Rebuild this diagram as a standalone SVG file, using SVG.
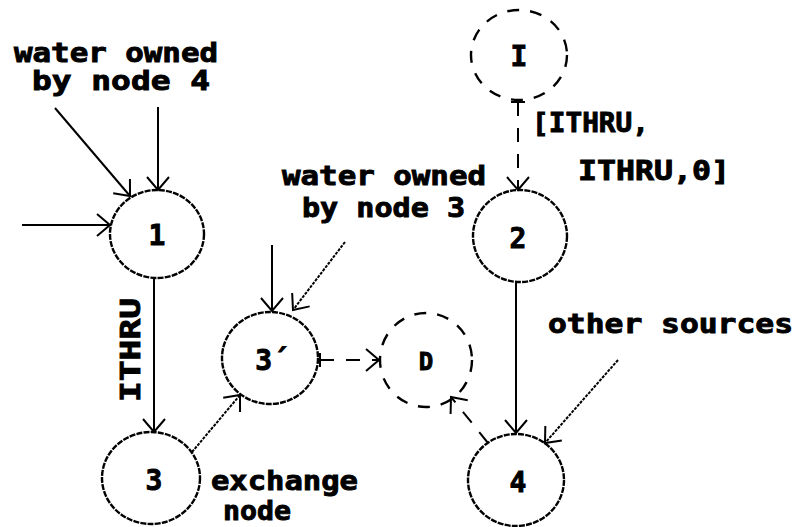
<svg xmlns="http://www.w3.org/2000/svg" width="798" height="527" viewBox="0 0 798 527">
<style>
.bg{fill:#fff}
.n{fill:none;stroke:#000;stroke-width:2.4;stroke-dasharray:6 1.2}
.nd{fill:none;stroke:#000;stroke-width:2.4;stroke-dasharray:12 11}
.c{fill:none;stroke:#000;stroke-width:2}
.cd{fill:none;stroke:#000;stroke-width:2;stroke-dasharray:3 1.2}
.cdash{fill:none;stroke:#000;stroke-width:2;stroke-dasharray:14 12}
.t{font-family:"DejaVu Sans Mono","Liberation Mono",monospace;font-weight:bold;font-size:26px;fill:#000;stroke:#000;stroke-width:0.9}
.nl{font-family:"DejaVu Sans Mono","Liberation Mono",monospace;font-weight:bold;font-size:28px;fill:#000;stroke:#000;stroke-width:0.9;text-anchor:middle}
</style>
<defs>
<marker id="ah" viewBox="-16 -14 18 28" refX="0" refY="0" markerWidth="18" markerHeight="28" markerUnits="userSpaceOnUse" orient="auto">
<path d="M-13,-11 L0,0 L-13,11" fill="none" stroke="#000" stroke-width="2"/>
</marker>
<marker id="tee" viewBox="-2 -8 4 16" refX="0" refY="0" markerWidth="4" markerHeight="16" markerUnits="userSpaceOnUse" orient="auto">
<path d="M0,-7 L0,7" fill="none" stroke="#000" stroke-width="2"/>
</marker>
</defs>
<rect class="bg" x="0" y="0" width="798" height="527"/>

<g id="connectors">
<line class="c" x1="55" y1="108" x2="130" y2="196" marker-end="url(#ah)"/>
<line class="c" x1="158" y1="107" x2="158" y2="190" marker-end="url(#ah)"/>
<line class="c" x1="22" y1="225" x2="110" y2="225" marker-end="url(#ah)"/>
<line class="c" x1="154" y1="278" x2="154" y2="432" marker-end="url(#ah)"/>
<line class="cd" x1="192" y1="452" x2="240" y2="395" marker-end="url(#ah)"/>
<line class="c" x1="272" y1="245" x2="272" y2="311" marker-end="url(#ah)"/>
<line class="cd" x1="345" y1="242" x2="293" y2="310" marker-end="url(#ah)"/>
<line class="cdash" x1="320" y1="360" x2="379" y2="360" stroke-dasharray="13 18 40" marker-start="url(#tee)" marker-end="url(#ah)"/>
<line class="cdash" x1="518" y1="102" x2="518" y2="190" stroke-dasharray="3 5 12 8 12 8 40" marker-start="url(#tee)" marker-end="url(#ah)"/>
<line class="c" x1="516" y1="283" x2="516" y2="433" marker-end="url(#ah)"/>
<line class="cd" x1="618" y1="360" x2="545" y2="443" marker-end="url(#ah)"/>
<line class="cdash" x1="488" y1="443" x2="451" y2="397" stroke-dasharray="20 24 40" marker-end="url(#ah)"/>
</g>

<g id="node-I">
<ellipse class="nd" cx="519" cy="55" rx="48" ry="45"/>
<text class="nl" x="519" y="66">I</text>
</g>
<g id="node-1">
<ellipse class="n" cx="157" cy="234" rx="47" ry="44"/>
<text class="nl" x="157" y="245">1</text>
</g>
<g id="node-2">
<ellipse class="n" cx="520" cy="236" rx="47" ry="46"/>
<text class="nl" x="518" y="248">2</text>
</g>
<g id="node-3p">
<ellipse class="n" cx="270" cy="358" rx="48" ry="46"/>
<text class="nl" x="272" y="370">3´</text>
</g>
<g id="node-D">
<ellipse class="nd" cx="426" cy="360" rx="46" ry="47"/>
<text class="nl" x="426" y="370" style="font-size:24px">D</text>
</g>
<g id="node-3">
<ellipse class="n" cx="151" cy="478" rx="49" ry="46"/>
<text class="nl" x="154" y="490">3</text>
</g>
<g id="node-4">
<ellipse class="n" cx="516" cy="480" rx="48" ry="46"/>
<text class="nl" x="518" y="492">4</text>
</g>

<g id="labels">
<text class="t" x="14" y="62" textLength="204" lengthAdjust="spacingAndGlyphs">water owned</text>
<text class="t" x="32" y="90" textLength="178" lengthAdjust="spacingAndGlyphs">by node 4</text>
<text class="t" x="282" y="185" textLength="204" lengthAdjust="spacingAndGlyphs">water owned</text>
<text class="t" x="302" y="217" textLength="163" lengthAdjust="spacingAndGlyphs">by node 3</text>
<text class="t" x="532" y="132" textLength="117" lengthAdjust="spacingAndGlyphs">[ITHRU,</text>
<text class="t" x="578" y="180" textLength="152" lengthAdjust="spacingAndGlyphs">ITHRU,0]</text>
<text class="t" x="131" y="359" text-anchor="middle" transform="rotate(-90 131 350)" textLength="104" lengthAdjust="spacingAndGlyphs">ITHRU</text>
<text class="t" x="211" y="490" textLength="147" lengthAdjust="spacingAndGlyphs">exchange</text>
<text class="t" x="223" y="520" textLength="68" lengthAdjust="spacingAndGlyphs">node</text>
<text class="t" x="548" y="333" textLength="245" lengthAdjust="spacingAndGlyphs">other sources</text>
</g>
</svg>
